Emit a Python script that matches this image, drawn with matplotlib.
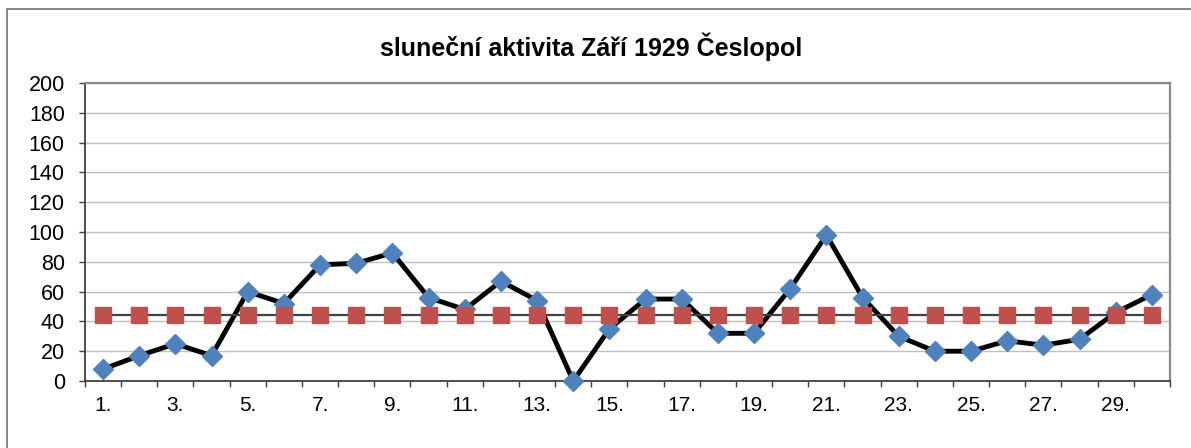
import matplotlib
matplotlib.use("Agg")
import matplotlib.pyplot as plt
from matplotlib.patches import Rectangle
from matplotlib.ticker import FixedLocator

plt.rcParams['font.family'] = ['Liberation Sans', 'DejaVu Sans']

title = "sluneční aktivita Září 1929 Česlopol"
days = list(range(1, 31))
activity = [8, 17, 25, 17, 60, 52, 78, 79, 86, 56,
            48, 67, 54, 0, 35, 55, 55, 32, 32, 62,
            98, 56, 30, 20, 20, 27, 24, 28, 46, 58]
average_value = 44.2
average = [average_value] * len(days)
label_days = list(range(1, 31, 2))
label_texts = [f"{d}." for d in label_days]
y_ticks = list(range(0, 201, 20))

W, H = 1191, 448
fig = plt.figure(figsize=(W / 100, H / 100), dpi=100)
fig.patch.set_facecolor("white")

# outer chart border (cut off at right and bottom)
fig.add_artist(Rectangle((6.5 / W, -0.1), 1.2, 1.1 - 9 / H,
                         transform=fig.transFigure, fill=False,
                         edgecolor="#7f7f7f", linewidth=1.3, zorder=0))

ax = fig.add_axes([85 / W, 1 - 381 / H, (1170 - 85) / W, (381 - 83) / H])

ax.plot(days, activity, color="black", linewidth=3.5, marker="D",
        markersize=10.5, markerfacecolor="#4F81BD", markeredgecolor="#4F81BD",
        zorder=3, clip_on=False)
ax.plot(days, average, color="#404040", linewidth=1.6, marker="s",
        markersize=11.5, markerfacecolor="#C0504D", markeredgecolor="#C0504D",
        zorder=4, clip_on=False)

ax.set_xlim(0.5, 30.5)
ax.set_ylim(0, 200)
ax.set_yticks(y_ticks)
ax.set_yticklabels([str(v) for v in y_ticks])
ax.yaxis.grid(True, color="#c0c0c0", linewidth=1.0)
ax.set_axisbelow(True)

ax.xaxis.set_major_locator(FixedLocator([d + 0.5 for d in range(0, 31)]))
ax.xaxis.set_major_formatter(plt.NullFormatter())
ax.xaxis.set_minor_locator(FixedLocator(label_days))
ax.set_xticklabels(label_texts, minor=True)

ax.tick_params(axis="x", which="major", length=4, width=1.0, color="#404040", direction="out")
ax.tick_params(axis="x", which="minor", length=0, pad=11, labelsize=15)
ax.tick_params(axis="y", length=4, width=1.0, color="#404040", pad=10.5, labelsize=15.5)

for s in ["top", "right"]:
    ax.spines[s].set_color("#8a8a8a")
    ax.spines[s].set_linewidth(1.6)
for s in ["left", "bottom"]:
    ax.spines[s].set_color("#404040")
    ax.spines[s].set_linewidth(1.3)

fig.text(591 / W, 1 - 47 / H, title, ha="center", va="center",
         fontsize=18, fontweight="bold")

fig.savefig("out.png", dpi=100)
